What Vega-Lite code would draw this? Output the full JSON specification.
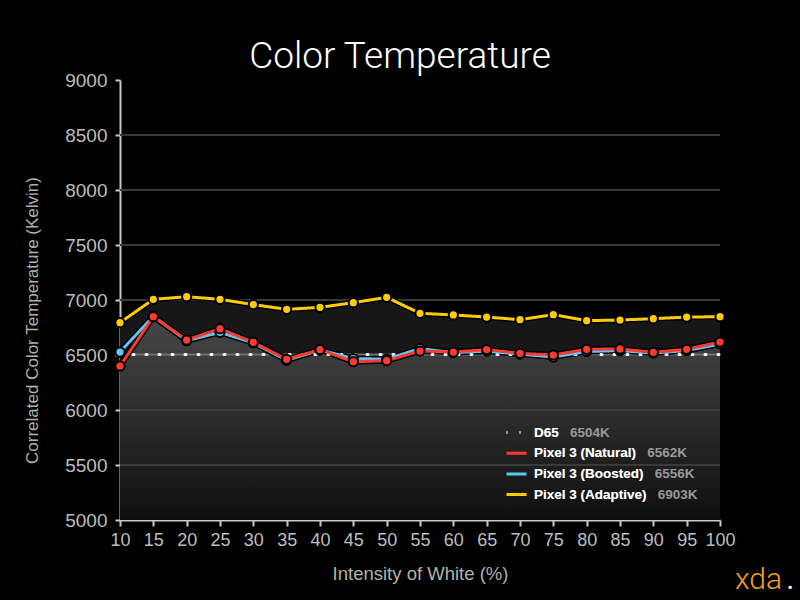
{
  "$schema": "https://vega.github.io/schema/vega-lite/v6.json",
  "width": 600,
  "height": 440,
  "autosize": {"type": "none"},
  "padding": {"left": 120, "top": 80, "right": 80, "bottom": 80},
  "background": "#000000",
  "config": {
    "view": {"stroke": null},
    "numberFormat": "d",
    "axis": {
      "grid": false, "domainColor": "#c8c8c8", "domainWidth": 2, "tickColor": "#c8c8c8", "tickWidth": 2,
      "labelColor": "#bdbdbd", "labelFont": "Liberation Sans", "labelFlush": false, "labelOverlap": false,
      "titleColor": "#b0b0b0", "titleFont": "Liberation Sans", "titleFontWeight": "normal"
    },
    "axisX": {"tickCount": 18, "tickSize": 6, "labelFontSize": 18, "labelPadding": 5, "titleFontSize": 18.5, "titlePadding": 15},
    "axisY": {"tickCount": 8, "tickSize": 5, "labelFontSize": 19, "labelPadding": 8, "titleFontSize": 17, "titlePadding": 23, "titleY": 240}
  },
  "title": {"text": "Color Temperature", "color": "#ffffff", "font": "Roboto", "fontWeight": 300, "fontSize": 37, "anchor": "middle", "frame": "group", "dx": -20, "offset": -5},
  "datasets": {
    "cct": [
      {"s": "D65", "x": 10, "y": 6504}, {"s": "D65", "x": 15, "y": 6504}, {"s": "D65", "x": 20, "y": 6504}, {"s": "D65", "x": 25, "y": 6504}, {"s": "D65", "x": 30, "y": 6504},
      {"s": "D65", "x": 35, "y": 6504}, {"s": "D65", "x": 40, "y": 6504}, {"s": "D65", "x": 45, "y": 6504}, {"s": "D65", "x": 50, "y": 6504}, {"s": "D65", "x": 55, "y": 6504},
      {"s": "D65", "x": 60, "y": 6504}, {"s": "D65", "x": 65, "y": 6504}, {"s": "D65", "x": 70, "y": 6504}, {"s": "D65", "x": 75, "y": 6504}, {"s": "D65", "x": 80, "y": 6504},
      {"s": "D65", "x": 85, "y": 6504}, {"s": "D65", "x": 90, "y": 6504}, {"s": "D65", "x": 95, "y": 6504}, {"s": "D65", "x": 100, "y": 6504},
      {"s": "Pixel 3 (Adaptive)", "x": 10, "y": 6794}, {"s": "Pixel 3 (Adaptive)", "x": 15, "y": 7006}, {"s": "Pixel 3 (Adaptive)", "x": 20, "y": 7030}, {"s": "Pixel 3 (Adaptive)", "x": 25, "y": 7006},
      {"s": "Pixel 3 (Adaptive)", "x": 30, "y": 6958}, {"s": "Pixel 3 (Adaptive)", "x": 35, "y": 6915}, {"s": "Pixel 3 (Adaptive)", "x": 40, "y": 6933}, {"s": "Pixel 3 (Adaptive)", "x": 45, "y": 6976},
      {"s": "Pixel 3 (Adaptive)", "x": 50, "y": 7024}, {"s": "Pixel 3 (Adaptive)", "x": 55, "y": 6879}, {"s": "Pixel 3 (Adaptive)", "x": 60, "y": 6864}, {"s": "Pixel 3 (Adaptive)", "x": 65, "y": 6845},
      {"s": "Pixel 3 (Adaptive)", "x": 70, "y": 6821}, {"s": "Pixel 3 (Adaptive)", "x": 75, "y": 6867}, {"s": "Pixel 3 (Adaptive)", "x": 80, "y": 6812}, {"s": "Pixel 3 (Adaptive)", "x": 85, "y": 6818},
      {"s": "Pixel 3 (Adaptive)", "x": 90, "y": 6830}, {"s": "Pixel 3 (Adaptive)", "x": 95, "y": 6845}, {"s": "Pixel 3 (Adaptive)", "x": 100, "y": 6848},
      {"s": "Pixel 3 (Boosted)", "x": 10, "y": 6527}, {"s": "Pixel 3 (Boosted)", "x": 15, "y": 6852}, {"s": "Pixel 3 (Boosted)", "x": 20, "y": 6630}, {"s": "Pixel 3 (Boosted)", "x": 25, "y": 6706},
      {"s": "Pixel 3 (Boosted)", "x": 30, "y": 6610}, {"s": "Pixel 3 (Boosted)", "x": 35, "y": 6452}, {"s": "Pixel 3 (Boosted)", "x": 40, "y": 6545}, {"s": "Pixel 3 (Boosted)", "x": 45, "y": 6468},
      {"s": "Pixel 3 (Boosted)", "x": 50, "y": 6462}, {"s": "Pixel 3 (Boosted)", "x": 55, "y": 6558}, {"s": "Pixel 3 (Boosted)", "x": 60, "y": 6522}, {"s": "Pixel 3 (Boosted)", "x": 65, "y": 6535},
      {"s": "Pixel 3 (Boosted)", "x": 70, "y": 6508}, {"s": "Pixel 3 (Boosted)", "x": 75, "y": 6482}, {"s": "Pixel 3 (Boosted)", "x": 80, "y": 6532}, {"s": "Pixel 3 (Boosted)", "x": 85, "y": 6540},
      {"s": "Pixel 3 (Boosted)", "x": 90, "y": 6518}, {"s": "Pixel 3 (Boosted)", "x": 95, "y": 6540}, {"s": "Pixel 3 (Boosted)", "x": 100, "y": 6600},
      {"s": "Pixel 3 (Natural)", "x": 10, "y": 6400}, {"s": "Pixel 3 (Natural)", "x": 15, "y": 6848}, {"s": "Pixel 3 (Natural)", "x": 20, "y": 6636}, {"s": "Pixel 3 (Natural)", "x": 25, "y": 6739},
      {"s": "Pixel 3 (Natural)", "x": 30, "y": 6615}, {"s": "Pixel 3 (Natural)", "x": 35, "y": 6461}, {"s": "Pixel 3 (Natural)", "x": 40, "y": 6549}, {"s": "Pixel 3 (Natural)", "x": 45, "y": 6439},
      {"s": "Pixel 3 (Natural)", "x": 50, "y": 6448}, {"s": "Pixel 3 (Natural)", "x": 55, "y": 6536}, {"s": "Pixel 3 (Natural)", "x": 60, "y": 6527}, {"s": "Pixel 3 (Natural)", "x": 65, "y": 6549},
      {"s": "Pixel 3 (Natural)", "x": 70, "y": 6515}, {"s": "Pixel 3 (Natural)", "x": 75, "y": 6500}, {"s": "Pixel 3 (Natural)", "x": 80, "y": 6552}, {"s": "Pixel 3 (Natural)", "x": 85, "y": 6555},
      {"s": "Pixel 3 (Natural)", "x": 90, "y": 6524}, {"s": "Pixel 3 (Natural)", "x": 95, "y": 6552}, {"s": "Pixel 3 (Natural)", "x": 100, "y": 6618}
    ],
    "summary": [
      {"s": "D65", "avg": "6504K"},
      {"s": "Pixel 3 (Natural)", "avg": "6562K"},
      {"s": "Pixel 3 (Boosted)", "avg": "6556K"},
      {"s": "Pixel 3 (Adaptive)", "avg": "6903K"}
    ],
    "grid": [{"v": 5500}, {"v": 6000}, {"v": 6500}, {"v": 7000}, {"v": 7500}, {"v": 8000}, {"v": 8500}]
  },
  "layer": [
    {
      "data": {"name": "cct"},
      "transform": [{"filter": "datum.s == 'Pixel 3 (Adaptive)'"}],
      "mark": {"type": "area", "color": "#171717"},
      "encoding": {
        "x": {"field": "x", "type": "quantitative", "scale": {"domain": [10, 100], "nice": false}, "title": "Intensity of White (%)"},
        "y": {"field": "y", "type": "quantitative", "scale": {"domain": [5000, 9000], "nice": false, "zero": false}, "title": "Correlated Color Temperature (Kelvin)"},
        "y2": {"datum": 5000}
      }
    },
    {
      "data": {"name": "cct"},
      "transform": [{"filter": "datum.s == 'Pixel 3 (Natural)'"}],
      "mark": {
        "type": "area",
        "color": {"gradient": "linear", "x1": 0, "y1": 0, "x2": 0, "y2": 1,
          "stops": [{"offset": 0, "color": "#474747"}, {"offset": 1, "color": "#0f0f0f"}]}
      },
      "encoding": {"x": {"field": "x", "type": "quantitative"}, "y": {"field": "y", "type": "quantitative"}, "y2": {"datum": 5000}}
    },
    {
      "data": {"name": "grid"},
      "mark": {"type": "rule", "color": "#3a3a3a", "strokeWidth": 2},
      "encoding": {"x": {"datum": 10}, "x2": {"datum": 100}, "y": {"field": "v", "type": "quantitative"}}
    },
    {
      "data": {"name": "cct"},
      "transform": [{"filter": "datum.s == 'D65'"}],
      "mark": {"type": "line", "color": "#6e6e6e", "strokeWidth": 2},
      "encoding": {"x": {"field": "x", "type": "quantitative"}, "y": {"field": "y", "type": "quantitative"}}
    },
    {
      "data": {"name": "cct"},
      "transform": [{"filter": "datum.s != 'D65'"}],
      "mark": {"type": "line", "color": "#000000", "strokeWidth": 6},
      "encoding": {"x": {"field": "x", "type": "quantitative"}, "y": {"field": "y", "type": "quantitative"}, "detail": {"field": "s"}}
    },
    {
      "data": {"name": "cct"},
      "mark": {"type": "line", "strokeWidth": 3, "strokeCap": "round"},
      "encoding": {
        "x": {"field": "x", "type": "quantitative"},
        "y": {"field": "y", "type": "quantitative"},
        "color": {
          "field": "s", "type": "nominal",
          "scale": {"domain": ["D65", "Pixel 3 (Natural)", "Pixel 3 (Boosted)", "Pixel 3 (Adaptive)"], "range": ["#ffffff", "#ff3b30", "#5ac8fa", "#ffcc00"]},
          "legend": {
            "orient": "none", "legendX": 385, "legendY": 341, "title": null, "padding": 0, "zindex": 2,
            "symbolType": "stroke", "symbolSize": 400, "symbolStrokeWidth": 3, "labelOffset": 6, "rowPadding": 2.7, "labelLimit": 300,
            "labelColor": "#ffffff", "labelFont": "Liberation Sans", "labelFontWeight": "bold", "labelFontSize": 13.5
          }
        },
        "strokeDash": {
          "field": "s", "type": "nominal",
          "scale": {"domain": ["D65", "Pixel 3 (Natural)", "Pixel 3 (Boosted)", "Pixel 3 (Adaptive)"], "range": [[1, 12], [1, 0], [1, 0], [1, 0]]},
          "legend": {
            "orient": "none", "legendX": 385, "legendY": 341, "title": null, "padding": 0, "zindex": 2,
            "symbolType": "stroke", "symbolSize": 400, "symbolStrokeWidth": 3, "labelOffset": 6, "rowPadding": 2.7, "labelLimit": 300,
            "labelColor": "#ffffff", "labelFont": "Liberation Sans", "labelFontWeight": "bold", "labelFontSize": 13.5
          }
        }
      }
    },
    {
      "data": {"name": "cct"},
      "transform": [{"filter": "datum.s == 'Pixel 3 (Adaptive)'"}],
      "mark": {"type": "point", "filled": true, "color": "#ffcc00", "stroke": "#000000", "strokeWidth": 2, "size": 85, "opacity": 1},
      "encoding": {"x": {"field": "x", "type": "quantitative"}, "y": {"field": "y", "type": "quantitative"}}
    },
    {
      "data": {"name": "cct"},
      "transform": [{"filter": "datum.s == 'Pixel 3 (Boosted)'"}],
      "mark": {"type": "point", "filled": true, "color": "#5ac8fa", "stroke": "#000000", "strokeWidth": 2, "size": 85, "opacity": 1},
      "encoding": {"x": {"field": "x", "type": "quantitative"}, "y": {"field": "y", "type": "quantitative"}}
    },
    {
      "data": {"name": "cct"},
      "transform": [{"filter": "datum.s == 'Pixel 3 (Natural)'"}],
      "mark": {"type": "point", "filled": true, "color": "#ff3b30", "stroke": "#000000", "strokeWidth": 2, "size": 85, "opacity": 1},
      "encoding": {"x": {"field": "x", "type": "quantitative"}, "y": {"field": "y", "type": "quantitative"}}
    },
    {
      "data": {"name": "summary"},
      "mark": {"type": "point", "opacity": 0},
      "encoding": {
        "x": {"datum": 100}, "y": {"datum": 5000},
        "shape": {
          "field": "avg", "type": "nominal",
          "scale": {"domain": ["6504K", "6562K", "6556K", "6903K"], "range": ["stroke", "stroke", "stroke", "stroke"]},
          "legend": {
            "orient": "none", "legendX": 385, "legendY": 341, "title": null, "padding": 0, "zindex": 1,
            "symbolType": "stroke", "symbolSize": 400, "symbolStrokeWidth": 3, "symbolOpacity": 0, "labelOffset": 6, "rowPadding": 2.7, "labelLimit": 300,
            "labelColor": "#9a9a9a", "labelFont": "Liberation Sans", "labelFontWeight": "bold", "labelFontSize": 13.5,
            "labelExpr": "{'6504K': 'D65', '6562K': 'Pixel 3 (Natural)', '6556K': 'Pixel 3 (Boosted)', '6903K': 'Pixel 3 (Adaptive)'}[datum.label] + '\u00a0\u00a0\u00a0' + datum.label"
          }
        }
      }
    },
    {
      "data": {"values": [{"t": "xda"}]},
      "mark": {"type": "text", "fill": "#f5a01a", "font": "Roboto", "fontWeight": 300, "fontSize": 30, "align": "left", "baseline": "alphabetic", "dx": 15, "dy": 69},
      "encoding": {"x": {"datum": 100, "type": "quantitative"}, "y": {"datum": 5000, "type": "quantitative"}, "text": {"field": "t", "type": "nominal"}}
    },
    {
      "data": {"values": [{"t": "."}]},
      "mark": {"type": "text", "fill": "#ffffff", "font": "Roboto", "fontWeight": 700, "fontSize": 22, "align": "left", "baseline": "alphabetic", "dx": 67, "dy": 69},
      "encoding": {"x": {"datum": 100, "type": "quantitative"}, "y": {"datum": 5000, "type": "quantitative"}, "text": {"field": "t", "type": "nominal"}}
    }
  ]
}
